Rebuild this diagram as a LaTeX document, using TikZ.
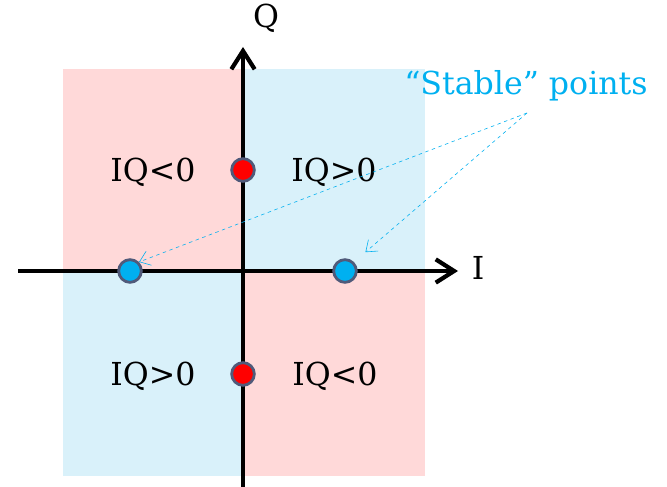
\documentclass[tikz,border=0pt]{standalone}
\usepackage{fontspec}
\setmainfont{DejaVu Serif}
\usepackage{tikz}
\usetikzlibrary{arrows.meta}

\definecolor{qpink}{RGB}{255,217,217}
\definecolor{qblue}{RGB}{217,241,250}
\definecolor{stabcyan}{RGB}{0,176,240}
\definecolor{dotrim}{RGB}{80,90,122}

\begin{document}
\begin{tikzpicture}[
    x=0.03cm, y=-0.03cm,
    axis/.style={line width=3.6pt, -{Straight Barb[length=5.5mm, width=7mm]}},
    reddot/.style={circle, draw=dotrim, line width=2.4pt, fill=red,
                   minimum size=0.68cm, inner sep=0pt},
    bluedot/.style={circle, draw=dotrim, line width=2.4pt, fill=stabcyan,
                    minimum size=0.68cm, inner sep=0pt},
    lbl/.style={font=\fontsize{27}{30}\selectfont},
    hint/.style={dashed, stabcyan, line width=0.5pt,
                 -{Straight Barb[length=3mm, width=4.5mm]}},
  ]
  \useasboundingbox (0,0) rectangle (667,487);

  % ============ Quadrant fills ============
  \fill[qpink] (63,69) rectangle (243,271);
  \fill[qblue] (243,69) rectangle (425,271);
  \fill[qblue] (63,271) rectangle (243,476);
  \fill[qpink] (243,271) rectangle (425,476);

  % ============ Axes ============
  \coordinate (iw) at (18,271);
  \coordinate (ie) at (458,271);
  \coordinate (qs) at (243,487);
  \coordinate (qn) at (243,47);
  \draw[axis] (iw) -- (ie);
  \draw[axis] (qs) -- (qn);
  \node[lbl] (ilbl) at (478,268) {I};
  \node[lbl] (qlbl) at (266,18) {Q};

  % ============ Sign labels ============
  \node[lbl] (tl) at (153,172) {IQ<0};
  \node[lbl] (tr) at (334,172) {IQ>0};
  \node[lbl] (bl) at (153,376) {IQ>0};
  \node[lbl] (br) at (335,376) {IQ<0};

  % ============ Points ============
  \node[reddot] (r1) at (243,170) {};
  \node[reddot] (r2) at (243,374) {};
  \node[bluedot] (b1) at (130,271) {};
  \node[bluedot] (b2) at (345,271) {};

  % ============ Stable points ============
  \node[lbl, text=stabcyan] (stab) at (526,86) {“Stable” points};
  \coordinate (fan) at (527,113);
  \draw[hint] (fan) -- (b1.north east);
  \draw[hint, shorten >=0.45cm] (fan) -- (b2.north east);

\end{tikzpicture}
\end{document}
